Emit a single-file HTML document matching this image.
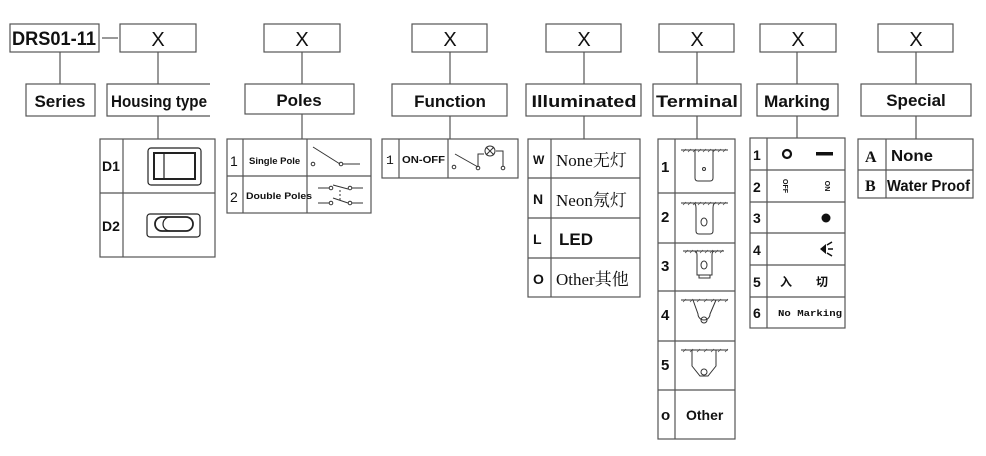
<!DOCTYPE html>
<html><head><meta charset="utf-8"><style>
html,body{margin:0;padding:0;background:#fff;width:986px;height:456px;overflow:hidden}
svg{display:block}
text{font-family:"Liberation Sans","Noto Sans CJK SC",sans-serif;fill:#111}
text.serif{font-family:"Liberation Serif","Noto Serif CJK SC",serif}
text.mono{font-family:"Liberation Mono",monospace}
</style></head><body>
<svg width="986" height="456" viewBox="0 0 986 456" xmlns="http://www.w3.org/2000/svg">
<g fill="none" stroke="#555" stroke-width="1.2">
<rect x="10" y="24" width="89" height="28"/>
<line x1="102" y1="38" x2="118" y2="38"/>
<line x1="60" y1="52" x2="60" y2="84"/>
<rect x="26" y="84" width="69" height="32"/>
<rect x="120" y="24" width="76" height="28"/>
<line x1="158" y1="52" x2="158" y2="84"/>
<path d="M210 84 H107 V116 H210"/>
<line x1="158" y1="116" x2="158" y2="139"/>
<rect x="100" y="139" width="115" height="118"/>
<line x1="123" y1="139" x2="123" y2="257"/>
<line x1="100" y1="193" x2="215" y2="193"/>
<rect x="264" y="24" width="76" height="28"/>
<line x1="302" y1="52" x2="302" y2="84"/>
<rect x="245" y="84" width="109" height="30"/>
<line x1="302" y1="114" x2="302" y2="139"/>
<rect x="227" y="139" width="144" height="74"/>
<line x1="243" y1="139" x2="243" y2="213"/>
<line x1="307" y1="139" x2="307" y2="213"/>
<line x1="227" y1="176" x2="371" y2="176"/>
<rect x="412" y="24" width="75" height="28"/>
<line x1="450" y1="52" x2="450" y2="84"/>
<rect x="392" y="84" width="115" height="32"/>
<line x1="450" y1="116" x2="450" y2="139"/>
<rect x="382" y="139" width="136" height="39"/>
<line x1="399" y1="139" x2="399" y2="178"/>
<line x1="448" y1="139" x2="448" y2="178"/>
<rect x="546" y="24" width="75" height="28"/>
<line x1="584" y1="52" x2="584" y2="84"/>
<rect x="526" y="84" width="115" height="32"/>
<line x1="584" y1="116" x2="584" y2="139"/>
<rect x="528" y="139" width="112" height="158"/>
<line x1="551" y1="139" x2="551" y2="297"/>
<line x1="528" y1="178" x2="640" y2="178"/>
<line x1="528" y1="218" x2="640" y2="218"/>
<line x1="528" y1="258" x2="640" y2="258"/>
<rect x="659" y="24" width="75" height="28"/>
<line x1="697" y1="52" x2="697" y2="84"/>
<rect x="653" y="84" width="88" height="32"/>
<line x1="697" y1="116" x2="697" y2="139"/>
<rect x="658" y="139" width="77" height="300"/>
<line x1="675" y1="139" x2="675" y2="439"/>
<line x1="658" y1="193" x2="735" y2="193"/>
<line x1="658" y1="243" x2="735" y2="243"/>
<line x1="658" y1="291" x2="735" y2="291"/>
<line x1="658" y1="341" x2="735" y2="341"/>
<line x1="658" y1="390" x2="735" y2="390"/>
<rect x="760" y="24" width="76" height="28"/>
<line x1="797" y1="52" x2="797" y2="84"/>
<rect x="757" y="84" width="81" height="32"/>
<line x1="797" y1="116" x2="797" y2="138"/>
<rect x="750" y="138" width="95" height="190"/>
<line x1="767" y1="138" x2="767" y2="328"/>
<line x1="750" y1="170" x2="845" y2="170"/>
<line x1="750" y1="202" x2="845" y2="202"/>
<line x1="750" y1="233" x2="845" y2="233"/>
<line x1="750" y1="265" x2="845" y2="265"/>
<line x1="750" y1="297" x2="845" y2="297"/>
<rect x="878" y="24" width="75" height="28"/>
<line x1="916" y1="52" x2="916" y2="84"/>
<rect x="861" y="84" width="110" height="32"/>
<line x1="916" y1="116" x2="916" y2="139"/>
<rect x="858" y="139" width="115" height="59"/>
<line x1="886" y1="139" x2="886" y2="198"/>
<line x1="858" y1="170" x2="973" y2="170"/>
</g>

<g fill="none" stroke="#222">
<rect x="148" y="148" width="53" height="37" rx="3" stroke-width="1.2"/>
<rect x="154" y="153" width="41" height="26" stroke-width="2"/>
<line x1="164" y1="153" x2="164" y2="179" stroke-width="1.2"/>
<rect x="147" y="214" width="53" height="23" rx="3" stroke-width="1.2"/>
<rect x="155" y="217" width="38" height="14" rx="7" stroke-width="1.8"/>
<path d="M170 217 a7 7 0 0 0 0 14" stroke-width="1.2"/>
</g>
<g fill="none" stroke="#333" stroke-width="1">
<line x1="313" y1="147" x2="340" y2="164"/>
<circle cx="313" cy="164" r="1.8"/><circle cx="341" cy="164" r="1.8"/>
<line x1="343" y1="164" x2="360" y2="164"/>
<line x1="318" y1="188" x2="329" y2="188"/><circle cx="331" cy="188" r="1.8"/>
<line x1="333" y1="185" x2="348" y2="189"/><circle cx="350" cy="188" r="1.8"/><line x1="352" y1="188" x2="363" y2="188"/>
<line x1="318" y1="203" x2="329" y2="203"/><circle cx="331" cy="203" r="1.8"/>
<line x1="333" y1="198" x2="348" y2="203"/><circle cx="350" cy="203" r="1.8"/><line x1="352" y1="203" x2="363" y2="203"/>
<line x1="340" y1="190" x2="340" y2="200" stroke-dasharray="2,2"/>
</g>
<g fill="none" stroke="#333" stroke-width="1">
<circle cx="454" cy="167" r="1.8"/>
<line x1="455" y1="154" x2="478" y2="167"/>
<circle cx="478" cy="168" r="1.8"/>
<path d="M478 166 V154 H484"/>
<circle cx="490" cy="151" r="5"/>
<path d="M486 147 L494 155 M494 147 L486 155"/>
<path d="M496 151 H503 V166"/>
<circle cx="503" cy="168" r="1.8"/>
</g>
<g fill="none" stroke="#333" stroke-width="1">
<g>
<line x1="681" y1="150" x2="728" y2="150"/>
<path d="M695 150 V178 Q695 181 698 181 H710 Q713 181 713 178 V150"/>
<circle cx="704" cy="169" r="1.5"/>
</g>
<g transform="translate(0,53)">
<line x1="681" y1="150" x2="728" y2="150"/>
<path d="M693 150 q3 0 3 5 V178 Q696 181 699 181 H710 Q713 181 713 178 V155 q0 -5 3 -5"/>
<ellipse cx="704" cy="169" rx="3" ry="4"/>
</g>
<g transform="translate(0,101)">
<line x1="683" y1="150" x2="724" y2="150"/>
<path d="M694 150 q3 0 3 4 V174 H712 V154 q0 -4 3 -4"/>
<path d="M699 174 V177 H710 V174"/>
<ellipse cx="704" cy="164" rx="3" ry="4"/>
</g>
<g transform="translate(0,150)">
<line x1="681" y1="150" x2="728" y2="150"/>
<path d="M693 150 L698 164 A6 6 0 1 0 710 164 L716 150"/>
<circle cx="704" cy="170" r="3"/>
</g>
<g transform="translate(0,200)">
<line x1="681" y1="150" x2="728" y2="150"/>
<path d="M692 150 V166 L700 176 H708 L716 166 V150"/>
<circle cx="704" cy="172" r="3"/>
</g>
</g>
<g stroke="#444" stroke-width="0.7">
<path d="M683 152 l3 -3 M688 152 l3 -3 M693 152 l3 -3 M698 152 l3 -3 M703 152 l3 -3 M708 152 l3 -3 M713 152 l3 -3 M718 152 l3 -3 M723 152 l3 -3"/>
<path transform="translate(0,53)" d="M683 152 l3 -3 M688 152 l3 -3 M693 152 l3 -3 M698 152 l3 -3 M703 152 l3 -3 M708 152 l3 -3 M713 152 l3 -3 M718 152 l3 -3 M723 152 l3 -3"/>
<path transform="translate(0,101)" d="M685 152 l3 -3 M690 152 l3 -3 M695 152 l3 -3 M700 152 l3 -3 M705 152 l3 -3 M710 152 l3 -3 M715 152 l3 -3 M720 152 l3 -3"/>
<path transform="translate(0,150)" d="M683 152 l3 -3 M690 152 l3 -3 M697 152 l3 -3 M704 152 l3 -3 M711 152 l3 -3 M718 152 l3 -3 M725 152 l3 -3"/>
<path transform="translate(0,200)" d="M683 152 l3 -3 M690 152 l3 -3 M697 152 l3 -3 M704 152 l3 -3 M711 152 l3 -3 M718 152 l3 -3 M725 152 l3 -3"/>
</g>
<circle cx="787" cy="154" r="4" fill="none" stroke="#111" stroke-width="2.2"/>
<rect x="816" y="152" width="17" height="3.5" fill="#111"/>
<circle cx="826" cy="218" r="4.5" fill="#111"/>
<path d="M820 249 l6 -5 v10 z" fill="#111"/>
<path d="M827 245 l5 -3 M828 249 h5 M827 253 l5 3" stroke="#111" stroke-width="1.5"/>

<g font-weight="bold">
<text x="54" y="45" font-size="19" text-anchor="middle" textLength="84" lengthAdjust="spacingAndGlyphs">DRS01-11</text>
<text x="60" y="107" font-size="17" text-anchor="middle">Series</text>
<text x="159" y="107" font-size="17" text-anchor="middle" textLength="96" lengthAdjust="spacingAndGlyphs">Housing type</text>
<text x="299" y="106" font-size="17" text-anchor="middle">Poles</text>
<text x="450" y="107" font-size="17" text-anchor="middle">Function</text>
<text x="584" y="107" font-size="17" text-anchor="middle" textLength="105" lengthAdjust="spacingAndGlyphs">Illuminated</text>
<text x="697" y="107" font-size="17" text-anchor="middle" textLength="82" lengthAdjust="spacingAndGlyphs">Terminal</text>
<text x="797" y="107" font-size="17" text-anchor="middle" textLength="66" lengthAdjust="spacingAndGlyphs">Marking</text>
<text x="916" y="106" font-size="17" text-anchor="middle">Special</text>
</g>
<g font-size="20" text-anchor="middle">
<text x="158" y="46">X</text><text x="302" y="46">X</text><text x="450" y="46">X</text>
<text x="584" y="46">X</text><text x="697" y="46">X</text><text x="798" y="46">X</text><text x="916" y="46">X</text>
</g>
<g font-weight="bold" font-size="14">
<text x="102" y="171">D1</text>
<text x="102" y="231">D2</text>
</g>
<text x="230" y="166" font-size="14">1</text>
<text x="230" y="202" font-size="14">2</text>
<text x="249" y="164" font-size="9.5" font-weight="bold">Single Pole</text>
<text x="246" y="199" font-size="9.5" font-weight="bold" textLength="66" lengthAdjust="spacingAndGlyphs">Double Poles</text>
<text x="386" y="164" font-size="13" class="mono">1</text>
<text x="402" y="163" font-size="10" font-weight="bold" textLength="43" lengthAdjust="spacingAndGlyphs">ON-OFF</text>
<g font-weight="bold">
<text x="533" y="164" font-size="12">W</text>
<text x="533" y="204" font-size="14">N</text>
<text x="533" y="244" font-size="14">L</text>
<text x="533" y="284" font-size="14">O</text>
</g>
<text class="serif" x="556" y="166" font-size="17">None无灯</text>
<text class="serif" x="556" y="206" font-size="17">Neon氖灯</text>
<text class="serif" x="556" y="285" font-size="17">Other其他</text>
<text x="559" y="245" font-size="17" font-weight="bold">LED</text>
<g font-weight="bold" font-size="15">
<text x="661" y="172">1</text><text x="661" y="222">2</text><text x="661" y="271">3</text>
<text x="661" y="320">4</text><text x="661" y="370">5</text><text x="661" y="420">o</text>
<text x="686" y="420" font-size="14">Other</text>
</g>
<g font-weight="bold" font-size="14">
<text x="753" y="160">1</text><text x="753" y="192">2</text><text x="753" y="223">3</text>
<text x="753" y="255">4</text><text x="753" y="287">5</text><text x="753" y="318">6</text>
</g>
<text transform="translate(783,186) rotate(90)" font-size="7" font-weight="bold" text-anchor="middle">OFF</text>
<text transform="translate(825,186) rotate(90)" font-size="7" font-weight="bold" text-anchor="middle">ON</text>
<text x="780" y="286" font-size="12" font-weight="bold">入</text>
<text x="816" y="286" font-size="12" font-weight="bold">切</text>
<text x="778" y="316" font-size="9.5" font-weight="bold" class="mono" textLength="64" lengthAdjust="spacingAndGlyphs">No Marking</text>
<text class="serif" x="865" y="162" font-size="16" font-weight="bold">A</text>
<text class="serif" x="865" y="191" font-size="16" font-weight="bold">B</text>
<text x="891" y="161" font-size="16" font-weight="bold" textLength="42" lengthAdjust="spacingAndGlyphs">None</text>
<text x="887" y="191" font-size="16" font-weight="bold" textLength="83" lengthAdjust="spacingAndGlyphs">Water Proof</text>
</svg>
</body></html>
